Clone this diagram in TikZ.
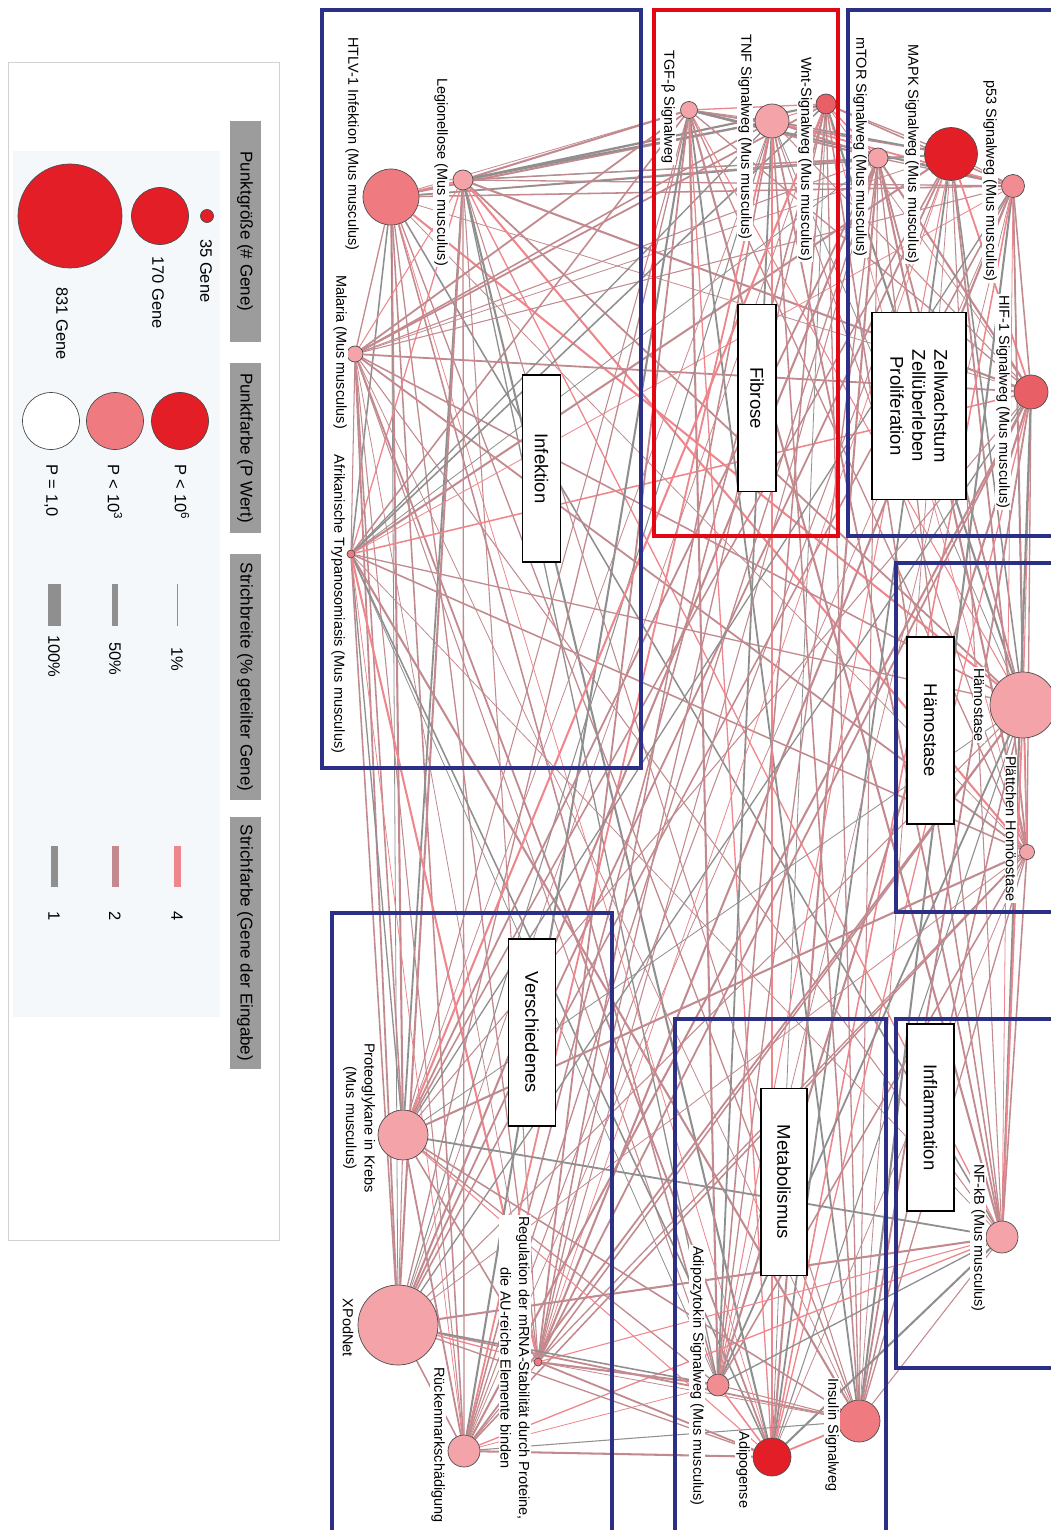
\documentclass[tikz,border=0pt]{standalone}
\usepackage{fontspec}
\setmainfont{Liberation Sans}
\pgfdeclarelayer{bg}
\pgfdeclarelayer{edges}
\pgfsetlayers{bg,edges,main}
\definecolor{cRed}{HTML}{E41E26}
\definecolor{cMid}{HTML}{EF7B81}
\definecolor{cPink}{HTML}{F08C92}
\definecolor{cLight}{HTML}{F4A3A8}
\definecolor{cDeep}{HTML}{E85F66}
\definecolor{cBlue}{HTML}{2B2F85}
\definecolor{cBoxRed}{HTML}{E30613}
\definecolor{cBar}{HTML}{9C9C9C}
\definecolor{cPanel}{HTML}{F5F8FA}
\definecolor{eg}{HTML}{8F8F8F}
\definecolor{er}{HTML}{C28A8E}
\definecolor{ep}{HTML}{EE868C}
\colorlet{e0}{er}\colorlet{e1}{er}\colorlet{e2}{er}\colorlet{e3}{er}
\colorlet{e4}{eg}\colorlet{e5}{eg}\colorlet{e6}{eg}\colorlet{e7}{er}
\colorlet{e8}{ep}\colorlet{e9}{ep}
\begin{document}
\begin{tikzpicture}[x=1pt,y=-1pt,
  gnode/.style={circle,draw=black!70,line width=0.7pt,inner sep=0pt,minimum size=#1},
  glab/.style={rotate=-90,font=\fontsize{14.5}{18.5}\selectfont,fill=white,inner sep=1pt,align=center},
  grp/.style={draw=cBlue,line width=4pt},
  tagbox/.style={draw=black,line width=1.5pt,fill=white,rotate=-90,minimum width=187pt,minimum height=38pt,font=\fontsize{18.5}{22}\selectfont,align=center,inner sep=0pt},
  hbar/.style={fill=cBar,rotate=-90,minimum height=31pt,inner sep=0pt,font=\fontsize{17}{20}\selectfont},
  llab/.style={rotate=-90,font=\fontsize{16.5}{19}\selectfont,inner sep=0pt,anchor=west}]
\useasboundingbox (0,0) rectangle (1051,1530);
\begin{pgfonlayer}{bg}
\fill[white] (0,0) rectangle (1051,1530);
\end{pgfonlayer}

% ---------------- legend ----------------
\draw[black!18,line width=0.8pt,fill=white] (8,62) rectangle (279,1240);
\fill[cPanel] (13,151) rectangle (220,1017);
\node[hbar,minimum width=221pt] (h1) at (245,231.5) {Punktgröße (\# Gene)};
\node[hbar,minimum width=170pt] (h2) at (245,448) {Punktfarbe (P Wert)};
\node[hbar,minimum width=246pt] (h3) at (245,677) {Strichbreite (\% geteilter Gene)};
\node[hbar,minimum width=252pt] (h4) at (245,943) {Strichfarbe (Gene der Eingabe)};

\node[gnode=13pt,fill=cRed] (s35) at (207,216) {};
\node[gnode=57pt,fill=cRed] (s170) at (160,216) {};
\node[gnode=104pt,fill=cRed] (s831) at (70,216) {};
\node[llab] (l35) at (206,239) {35 Gene};
\node[llab] (l170) at (158,256) {170 Gene};
\node[llab] (l831) at (62,287) {831 Gene};

\node[gnode=57pt,fill=cRed] (p6) at (180,421) {};
\node[gnode=57pt,fill=cMid] (p3) at (115,421) {};
\node[gnode=57pt,fill=white] (p1) at (51,421) {};
\node[llab] (lp6) at (182,464) {P < 10\textsuperscript{6}};
\node[llab] (lp3) at (115,464) {P < 10\textsuperscript{3}};
\node[llab] (lp1) at (51,464) {P = 1,0};

\draw[eg,line width=1pt] (177,584) -- (177,626);
\draw[eg,line width=6pt] (115,584) -- (115,626);
\draw[eg,line width=13pt] (54,584) -- (54,626);
\node[llab] (w1) at (177,647) {1\%};
\node[llab] (w50) at (115,642) {50\%};
\node[llab] (w100) at (54,635) {100\%};

\draw[ep,line width=7pt] (177,846) -- (177,887);
\draw[er,line width=7pt] (115,846) -- (115,887);
\draw[eg,line width=7pt] (54,846) -- (54,887);
\node[llab,anchor=center] (c4) at (177,916) {4};
\node[llab,anchor=center] (c2) at (115,916) {2};
\node[llab,anchor=center] (c1) at (54,916) {1};

% ---------------- group boxes ----------------
\draw[grp] (322,10) rectangle (641,768);
\draw[draw=cBoxRed,line width=4pt] (654,10) rectangle (838,536);
\draw[grp] (1060,10) -- (848,10) -- (848,536) -- (1060,536);
\draw[grp] (1060,563) -- (896,563) -- (896,912) -- (1060,912);
\draw[grp] (1060,1019) -- (896,1019) -- (896,1368) -- (1060,1368);
\draw[grp] (675,1540) -- (675,1019) -- (886,1019) -- (886,1540);
\draw[grp] (332,1540) -- (332,913) -- (612,913) -- (612,1540);

% ---------------- graph nodes ----------------
\node[gnode=56pt,fill=cMid]   (n1)  at (391,197) {};
\node[gnode=20pt,fill=cLight] (n2)  at (463,180) {};
\node[gnode=16pt,fill=cLight] (n3)  at (355,354) {};
\node[gnode=8pt,fill=cMid]    (n4)  at (351,554) {};
\node[gnode=17pt,fill=cLight] (n5)  at (689,110) {};
\node[gnode=34pt,fill=cLight] (n6)  at (772,121) {};
\node[gnode=20pt,fill=cDeep]  (n7)  at (826,104) {};
\node[gnode=20pt,fill=cLight] (n8)  at (878,158) {};
\node[gnode=53pt,fill=cRed]   (n9)  at (951,154) {};
\node[gnode=23pt,fill=cPink]  (n10) at (1013,186) {};
\node[gnode=34pt,fill=cDeep]  (n11) at (1031,392) {};
\node[gnode=66pt,fill=cLight] (n12) at (1023,705) {};
\node[gnode=15pt,fill=cLight] (n13) at (1027,852) {};
\node[gnode=32pt,fill=cLight] (n14) at (1002,1237) {};
\node[gnode=42pt,fill=cMid]   (n15) at (859,1421) {};
\node[gnode=22pt,fill=cPink]  (n16) at (718,1385) {};
\node[gnode=38pt,fill=cRed]   (n17) at (772,1457) {};
\node[gnode=50pt,fill=cLight] (n18) at (403,1135) {};
\node[gnode=80pt,fill=cLight] (n19) at (398,1325) {};
\node[gnode=32pt,fill=cLight] (n20) at (464,1451) {};
\node[gnode=8pt,fill=cMid]    (n21) at (538,1362) {};

% ---------------- edges ----------------
\begin{pgfonlayer}{edges}
\foreach \i in {1,...,20}{
  \pgfmathtruncatemacro\js{\i+1}
  \foreach \j in {\js,...,21}{
    \pgfmathtruncatemacro\c{mod(3*\i*\i+7*\j+\i*\j,10)}
    \pgfmathsetmacro\w{0.8+0.25*mod(5*\i+\j*\j,6)}
    \draw[draw=e\c,line width=\w pt] (n\i) -- (n\j);
  }
}
\end{pgfonlayer}

% ---------------- labels ----------------
\node[glab] (t1)  at (352,144) {HTLV-1 Infektion (Mus musculus)};
\node[glab] (t2)  at (441,172) {Legionellose (Mus musculus)};
\node[glab] (t3)  at (340,352) {Malaria (Mus musculus)};
\node[glab] (t4)  at (338,604) {Afrikanische Trypanosomiasis (Mus musculus)};
\node[glab] (t5)  at (668,107) {TGF-β Signalweg};
\node[glab] (t6)  at (745,137) {TNF Signalweg (Mus musculus)};
\node[glab] (t7)  at (805,159) {Wnt-Signalweg (Mus musculus)};
\node[glab] (t8)  at (860,147) {mTOR Signalweg (Mus musculus)};
\node[glab] (t9)  at (912,154) {MAPK Signalweg (Mus musculus)};
\node[glab] (t10) at (990,181) {p53 Signalweg (Mus musculus)};
\node[glab] (t11) at (1003,402) {HIF-1 Signalweg (Mus musculus)};
\node[glab] (t12) at (979,705) {Hämostase};
\node[glab] (t13) at (1011,829) {Plättchen Homöostase};
\node[glab] (t14) at (978,1238) {NF-kB (Mus musculus)};
\node[glab] (t15) at (832,1435) {Insulin Signalweg};
\node[glab] (t16) at (697,1376) {Adipozytokin Signalweg (Mus musculus)};
\node[glab] (t17) at (743,1470) {Adipogense};
\node[glab] (t18) at (359,1118) {Proteoglykane in Krebs\\(Mus musculus)};
\node[glab] (t19) at (348,1328) {XPodNet};
\node[glab] (t20) at (438,1445) {Rückenmarkschädigung};
\node[glab] (t21) at (515,1368) {Regulation der mRNA-Stabilität durch Proteine,\\die AU-reiche Elemente binden};

% ---------------- group tags ----------------
\node[tagbox] (g1) at (541.5,468.5) {Infektion};
\node[tagbox] (g2) at (757,398) {Fibrose};
\node[tagbox,minimum height=94pt] (g3) at (919,406) {Zellwachstum\\Zellüberleben\\Proliferation};
\node[tagbox,minimum height=47pt] (g4) at (930.5,730.5) {Hämostase};
\node[tagbox,minimum height=47pt] (g5) at (930.5,1117.5) {Inflammation};
\node[tagbox,minimum height=46pt] (g6) at (784,1182) {Metabolismus};
\node[tagbox,minimum height=47pt] (g7) at (532,1032.5) {Verschiedenes};
\end{tikzpicture}
\end{document}
